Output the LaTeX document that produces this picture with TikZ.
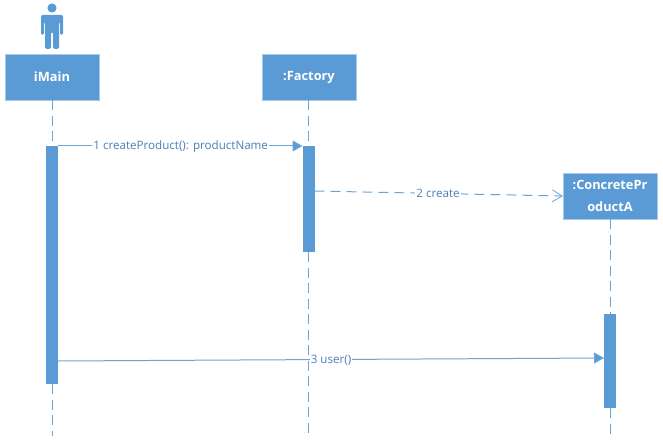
\documentclass[tikz,border=0pt]{standalone}
\usepackage{fontspec}
\setmainfont{Open Sans}
\usetikzlibrary{arrows.meta,calc}
\definecolor{uml}{HTML}{5B9BD5}
\definecolor{umlline}{HTML}{6AA5DA}
\definecolor{umltext}{HTML}{4A7FB5}
\definecolor{umledge}{HTML}{A9C9E8}
\tikzset{
  lifebox/.style={rectangle,fill=uml,draw=umledge,line width=0.8pt,minimum width=94pt,minimum height=46pt,inner sep=0pt,align=center,text=white,font=\fontsize{12.8}{21.5}\selectfont\bfseries},
  activation/.style={rectangle,fill=uml,draw=none,minimum width=12pt,inner sep=0pt},
  lifeline/.style={draw=umlline,line width=0.9pt,dash pattern=on 10pt off 5.5pt},
  syncmsg/.style={draw=umlline,line width=1pt,-{Triangle[length=10pt,width=11pt,fill=uml]}},
  createmsg/.style={draw=umlline,line width=1pt,dash pattern=on 10pt off 6pt,-{Straight Barb[length=10pt,width=12pt,line width=0.8pt]}},
  msglabel/.style={fill=white,inner xsep=1pt,inner ysep=0.5pt,text=umltext,font=\fontsize{11.6}{13}\selectfont},
}
\begin{document}
\begin{tikzpicture}[x=1pt,y=-1pt]
\useasboundingbox (0,0) rectangle (663,446);
% lifeline boxes
\node[lifebox] (main) at (52,77) {iMain};
\node[lifebox] (factory) at (309,77) {:Factory};
\node[lifebox] (product) at (610,196) {:ConcretePr\\oductA};
% activations
\node[activation,minimum height=238pt] (amain) at (52,265) {};
\node[activation,minimum height=106pt] (afactory) at (308.5,199) {};
\node[activation,minimum height=94pt] (aproduct) at (610,361) {};
% lifeline ends
\coordinate (endmain) at (52,436);
\coordinate (endfactory) at (308.5,436);
\coordinate (endproduct) at (610,436);
% message ends
\coordinate (m1a) at (58,146);
\coordinate (m1b) at (302.5,146);
\coordinate (m2a) at (314.5,191);
\coordinate (m2b) at (563,196);
\coordinate (m3a) at (58,361);
\coordinate (m3b) at (604,358);
% messages
\draw[syncmsg] (m1a) -- node[msglabel,pos=0.502] (l1) {1 createProduct(): productName} (m1b);
\draw[createmsg] (m2a) -- node[msglabel,pos=0.497] (l2) {2 create} (m2b);
\draw[syncmsg] (m3a) -- node[msglabel,pos=0.5,yshift=-0.8pt] (l3) {3 user()} (m3b);
% lifelines
\draw[lifeline] (main.south -| amain) -- (amain.north);
\draw[lifeline] (amain.south) -- (endmain);
\draw[lifeline] (factory.south -| afactory) -- (afactory.north);
\draw[lifeline] (afactory.south) -- (endfactory);
\draw[lifeline] (product.south) -- (aproduct.north);
\draw[lifeline] (aproduct.south) -- (endproduct);
% actor
\fill[uml] (52,8) circle (4.6);
\fill[uml,rounded corners=1.5pt] (41,15) -- (63,15) -- (63,35) -- (60,35) -- (60,22) -- (59,22) -- (59,49) -- (53,49) -- (53,32) -- (51,32) -- (51,49) -- (45,49) -- (45,22) -- (44,22) -- (44,35) -- (41,35) -- cycle;
\end{tikzpicture}
\end{document}
